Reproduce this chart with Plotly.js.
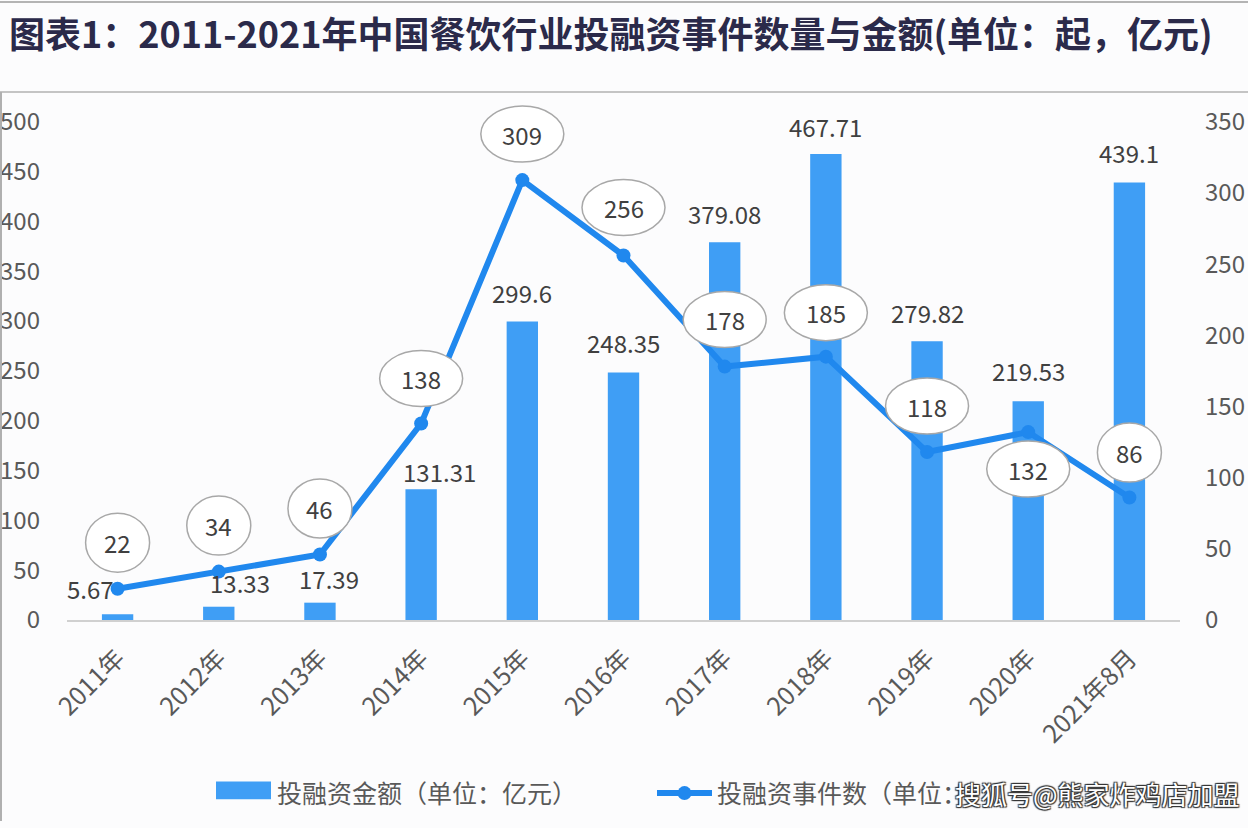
<!DOCTYPE html>
<html>
<head>
<meta charset="utf-8">
<script src="https://cdn.plot.ly/plotly-3.0.1.min.js"></script>
<style>
html,body{margin:0;padding:0;background:#fcfcfd;}
#chart{width:1248px;height:828px;}
</style>
</head>
<body>
<div id="chart"></div>
<script>
// ---- data ----
const categories = ['2011年','2012年','2013年','2014年','2015年','2016年','2017年','2018年','2019年','2020年','2021年8月'];
const amountValues = [5.67, 13.33, 17.39, 131.31, 299.6, 248.35, 379.08, 467.71, 279.82, 219.53, 439.1];
const eventValues = [22, 34, 46, 138, 309, 256, 178, 185, 118, 132, 86];
const leftTicks = [0, 50, 100, 150, 200, 250, 300, 350, 400, 450, 500];
const rightTicks = [0, 50, 100, 150, 200, 250, 300, 350];
const amountName = '投融资金额（单位：亿元）';
const eventName = '投融资事件数（单位：起）';
const titleText = '图表1：2011-2021年中国餐饮行业投融资事件数量与金额(单位：起，亿元)';
const watermarkText = '搜狐号@熊家炸鸡店加盟';

// ---- label placement (pixel offsets, style only) ----
const barLabelDx = [-27, 21, 9, 18, 0, 0, 0, 0, 0, 0, 0];
const barLabelDy = [26, 24, 24, 18, 29, 30, 29, 27, 29, 31, 30];
const eventLabelDy = [46, 46, 46, 45, 46, 48, 47, 44, 46, -37, 45];

const FONT = '"Noto Sans CJK SC", "Open Sans", sans-serif';
const TXT = '#404040';
const TICK = '#595959';

const barTrace = {
  type: 'bar', name: amountName, x: categories, y: amountValues,
  marker: {color: '#3f9ef5'}, width: 0.31, hoverinfo: 'x+y'
};
const lineTrace = {
  type: 'scatter', mode: 'lines+markers', name: eventName, x: categories, y: eventValues,
  yaxis: 'y2', line: {color: '#2088ee', width: 6}, marker: {color: '#2088ee', size: 14},
  hoverinfo: 'x+y'
};

// plot-area geometry (pixels) for paper-ref decorations
const W = 1248, H = 828, mL = 67, mR = 68, mT = 95, mB = 203;
const pw = W - mL - mR, ph = H - mT - mB;
const scaleSpan = 503; // pixel height of the ticked 0..max span
const leftMax = 500 * ph / scaleSpan;
const rightMax = 350 * ph / scaleSpan;
const px = v => (v - mL) / pw;
const py = v => (H - mB - v) / ph;

const annotations = [];
const shapes = [];

amountValues.forEach((v, i) => {
  annotations.push({
    x: i, y: v, xref: 'x', yref: 'y', text: String(v), showarrow: false,
    xanchor: 'center', yanchor: 'middle', xshift: barLabelDx[i], yshift: barLabelDy[i],
    font: {family: FONT, size: 24, color: TXT}
  });
});

eventValues.forEach((v, i) => {
  const w = String(v).length >= 3 ? 83 : 64;
  const h = String(v).length >= 3 ? 56 : 59;
  const dy = eventLabelDy[i];
  shapes.push({
    type: 'circle', xref: 'x', yref: 'y2', xsizemode: 'pixel', ysizemode: 'pixel',
    xanchor: i, yanchor: v, x0: -w / 2, x1: w / 2, y0: dy - h / 2, y1: dy + h / 2,
    line: {color: '#a8a8a8', width: 1.5}, fillcolor: '#ffffff', layer: 'above'
  });
  annotations.push({
    x: i, y: v, xref: 'x', yref: 'y2', text: String(v), showarrow: false,
    xanchor: 'center', yanchor: 'middle', yshift: dy,
    font: {family: FONT, size: 24, color: TXT}
  });
});

// frame lines
shapes.push({type: 'line', xref: 'paper', yref: 'paper', x0: px(0), x1: px(W), y0: py(1), y1: py(1), line: {color: '#b4b4b4', width: 2}});
shapes.push({type: 'line', xref: 'paper', yref: 'paper', x0: px(0), x1: px(W), y0: py(92), y1: py(92), line: {color: '#c4c4c4', width: 2}});
shapes.push({type: 'line', xref: 'paper', yref: 'paper', x0: px(1), x1: px(1), y0: py(92), y1: py(H), line: {color: '#b0b0b0', width: 2}});

// wide legend swatch for the bar series (extends the native swatch)
shapes.push({type: 'rect', xref: 'paper', yref: 'paper', x0: px(216), x1: px(271), y0: py(806), y1: py(788),
  line: {width: 0}, fillcolor: '#3f9ef5', layer: 'above'});

// title
annotations.push({
  xref: 'paper', yref: 'paper', x: px(7), y: py(31), xanchor: 'left', yanchor: 'middle',
  text: '<b>' + titleText + '</b>', showarrow: false,
  font: {family: FONT, size: 36, color: '#2b2a4a'}
});

// watermark
annotations.push({
  xref: 'paper', yref: 'paper', x: px(953), y: py(800), xanchor: 'left', yanchor: 'middle',
  text: watermarkText, showarrow: false, bgcolor: '#fcfcfd',
  font: {family: FONT, size: 26, color: '#ffffff',
         shadow: '1px 1px 1px #333, -1px -1px 1px #333, 1px -1px 1px #333, -1px 1px 1px #333'}
});

const layout = {
  width: W, height: H,
  margin: {l: mL, r: mR, t: mT, b: mB, pad: 0},
  paper_bgcolor: '#fcfcfd', plot_bgcolor: 'rgba(0,0,0,0)',
  font: {family: FONT, color: TICK},
  showlegend: true,
  bargap: 0.69,
  xaxis: {
    type: 'category', range: [-0.5, 10.5], showgrid: false, zeroline: false,
    showline: true, linecolor: '#d0d0d0', linewidth: 1.5,
    ticks: '', tickangle: -45, ticklabelstandoff: 12,
    tickfont: {family: FONT, size: 25, color: TICK}, fixedrange: true
  },
  yaxis: {
    range: [0, leftMax], tickvals: leftTicks, ticktext: leftTicks.map(String),
    showgrid: false, zeroline: false, showline: false, ticks: '',
    ticklabelstandoff: 26, tickfont: {family: FONT, size: 24, color: TICK}, fixedrange: true
  },
  yaxis2: {
    range: [0, rightMax], tickvals: rightTicks, ticktext: rightTicks.map(String),
    overlaying: 'y', side: 'right', showgrid: false, zeroline: false, showline: false,
    ticks: '', ticklabelstandoff: 24, tickfont: {family: FONT, size: 24, color: TICK}, fixedrange: true
  },
  legend: {
    orientation: 'h', x: px(212), y: py(800), xanchor: 'left', yanchor: 'middle',
    entrywidth: 370, entrywidthmode: 'pixels', itemwidth: 55,
    font: {family: FONT, size: 25, color: TICK}, bgcolor: 'rgba(0,0,0,0)'
  },
  annotations: annotations,
  shapes: shapes
};

Plotly.newPlot('chart', [barTrace, lineTrace], layout, {displayModeBar: false});
</script>
</body>
</html>
